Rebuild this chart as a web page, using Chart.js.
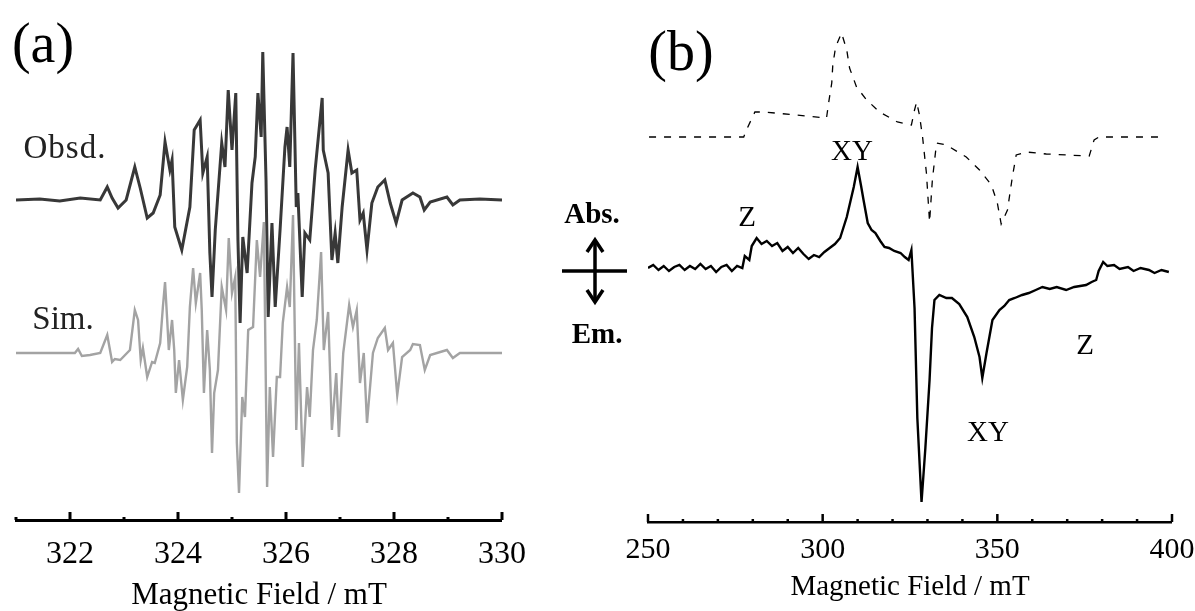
<!DOCTYPE html>
<html>
<head>
<meta charset="utf-8">
<title>EPR spectra</title>
<script src="https://cdn.jsdelivr.net/npm/chart.js"></script>
<style>
  html, body { margin: 0; padding: 0; background: #fff; }
  #wrap { position: relative; width: 1195px; height: 611px; overflow: hidden; }
  canvas, svg { position: absolute; left: 0; top: 0; }
  .lbl {
    position: absolute;
    transform: translate(-50%, -50%);
    font-family: 'Liberation Serif', 'Times New Roman', serif;
    line-height: 1;
    white-space: nowrap;
    color: #000;
  }
</style>
</head>
<body>
<div id="wrap">
  <canvas id="chartA" width="1195" height="611"></canvas>
  <canvas id="chartB" width="1195" height="611"></canvas>

  <!-- Abs./Em. double arrow -->
  <svg width="1195" height="611">
    <g stroke="#000" fill="none" stroke-width="3.5">
      <line x1="562" y1="271" x2="627" y2="271"/>
      <line x1="595" y1="241" x2="595" y2="300"/>
      <polyline points="587,252 595,240 603,252"/>
      <polyline points="587,290 595,302 603,290"/>
    </g>
  </svg>

  <div class="lbl" style="left:43px;top:43px;font-size:56px">(a)</div>
  <div class="lbl" style="left:65px;top:147px;font-size:33px;color:#222;letter-spacing:1px">Obsd.</div>
  <div class="lbl" style="left:63px;top:318px;font-size:33px;color:#222">Sim.</div>

  <div class="lbl" style="left:681px;top:51px;font-size:56px">(b)</div>
  <div class="lbl" style="left:852px;top:150px;font-size:29px">XY</div>
  <div class="lbl" style="left:747px;top:216px;font-size:29px">Z</div>
  <div class="lbl" style="left:592px;top:213px;font-size:29px;font-weight:bold">Abs.</div>
  <div class="lbl" style="left:597px;top:333px;font-size:29px;font-weight:bold">Em.</div>
  <div class="lbl" style="left:988px;top:431px;font-size:29px">XY</div>
  <div class="lbl" style="left:1085px;top:344px;font-size:29px">Z</div>
</div>

<script>
// ---- panel (a): hyperfine spectrum, field in mT ----
const obsdField = [321.00, 321.44, 321.81, 322.19, 322.56, 322.69, 322.78, 322.89, 323.04, 323.20,
  323.30, 323.43, 323.54, 323.67, 323.76, 323.85, 323.89, 323.94, 324.07, 324.22,
  324.30, 324.41, 324.46, 324.54, 324.59, 324.63, 324.69, 324.81, 324.87, 324.93,
  325.00, 325.07, 325.11, 325.15, 325.20, 325.28, 325.37, 325.43, 325.48, 325.54,
  325.57, 325.63, 325.67, 325.74, 325.80, 325.89, 325.98, 326.02, 326.07, 326.13,
  326.19, 326.22, 326.30, 326.35, 326.44, 326.54, 326.67, 326.69, 326.78, 326.85,
  326.91, 326.96, 327.04, 327.15, 327.22, 327.31, 327.37, 327.43, 327.50, 327.59,
  327.70, 327.83, 327.93, 328.04, 328.15, 328.35, 328.48, 328.56, 328.67, 328.98,
  329.09, 329.22, 329.59, 330.00];
const obsdSignal = [0, 1, -1, 2, 0, 13, 2, -8, 0, 33,
  12, -18, -13, 5, 58, 30, 40, -27, -50, -7,
  70, 80, 27, 43, -53, -97, -30, 57, 33, 110,
  50, 107, -40, -123, -37, -73, 17, 43, 107, 63,
  148, 20, -117, -23, -107, -30, 53, 73, 33, 147,
  -7, 7, -97, -33, -40, 30, 102, 50, 27, -60,
  -33, -63, -7, 50, 27, 30, -20, -13, -50, -3,
  13, 20, -3, -23, 0, 7, 3, -10, -2, 3,
  -5, 0, 1, 0];

const simField = [321.00, 322.09, 322.15, 322.22, 322.37, 322.56, 322.69, 322.78, 322.83, 322.93,
  323.11, 323.20, 323.26, 323.31, 323.35, 323.43, 323.52, 323.57, 323.67, 323.72,
  323.76, 323.80, 323.83, 323.89, 323.93, 323.96, 324.02, 324.09, 324.17, 324.22,
  324.28, 324.33, 324.41, 324.44, 324.48, 324.54, 324.59, 324.63, 324.67, 324.74,
  324.81, 324.89, 324.94, 325.00, 325.06, 325.09, 325.13, 325.19, 325.24, 325.30,
  325.39, 325.46, 325.52, 325.59, 325.65, 325.70, 325.76, 325.83, 325.89, 325.94,
  326.02, 326.07, 326.13, 326.19, 326.24, 326.31, 326.39, 326.44, 326.50, 326.57,
  326.65, 326.70, 326.78, 326.85, 326.93, 326.98, 327.06, 327.17, 327.24, 327.31,
  327.37, 327.44, 327.50, 327.61, 327.70, 327.83, 327.89, 327.98, 328.06, 328.15,
  328.30, 328.35, 328.48, 328.57, 328.67, 328.98, 329.09, 329.22, 330.00];
const simSignal = [0, 0, 4, -3, -2, 0, 18, -9, -6, -7,
  3, 43, 33, -7, 5, -24, -9, -10, 10, 46,
  71, 33, 3, 33, 3, -40, -7, -47, -14, 46,
  85, 50, 80, 43, -40, 23, -17, -100, -40, -17,
  66, 43, 115, 60, 76, -90, -140, -44, -64, 23,
  26, 113, 76, 131, -134, -34, -104, -24, -24, 30,
  66, 46, 138, -77, 10, -114, -34, -64, 3, 33,
  101, 3, 41, -77, -20, -84, 0, 48, 26, 43,
  -30, 0, -70, 0, 15, 25, 3, 10, -42, -4,
  3, 9, 8, -17, -2, 3, -5, 0, 0];

// ---- panel (b): triplet spectrum, field in mT ----
const trepField = [250, 251.5, 253, 254.5, 256, 257.5, 259, 260.5, 262, 263.5,
  265, 266.5, 268, 269.5, 271, 272.5, 274, 275.5, 277, 277.7,
  279, 279.7, 281.1, 282.5, 284, 285.5, 287, 288.5, 290, 291.5,
  293, 294.5, 296, 297.5, 299, 300.5, 302, 303.5, 305, 306.9,
  308.9, 310, 311, 311.7, 312.9, 314, 315.1, 316.5, 317.7, 319,
  320.5, 322.3, 323.5, 324.6, 325.4, 326.3, 327.1, 328.3, 329.4, 330.6,
  331.3, 332, 333.4, 335.4, 337, 339.1, 341.4, 343.4, 344.9, 345.7,
  346.9, 348.6, 350.6, 352, 353.4, 355, 357.1, 359, 361, 362.9,
  365, 367, 369.7, 372, 375.4, 377, 378.3, 379, 380.3, 381.5,
  383.4, 385, 387.4, 389, 391, 393.4, 395, 397, 399.1];
const trepSignal = [0, 3, -2, 2, -3, 1, 3, -2, 2, -1,
  4, -1, 2, -4, 1, 3, -3, 2, 0, 12,
  8, 22, 30, 24, 27, 22, 25, 17, 21, 15,
  20, 14, 9, 13, 11, 16, 20, 24, 30, 51,
  81, 101, 82, 68, 45, 38, 35, 27, 21, 20,
  17, 15, 11, 8, 18, -40, -150, -234, -180, -112,
  -60, -32, -27, -30, -30, -36, -49, -69, -89, -110,
  -85, -52, -42, -38, -32, -30, -27, -25, -22, -19,
  -21, -19, -22, -19, -17, -14, -12, -3, 6, 2,
  3, -1, 1, -3, 0, -2, -5, -2, -4];

const calcField = [250.3, 277.4, 278.3, 280.6, 283.4, 301.1, 301.7, 302.6, 302.9, 303.7,
  305.4, 306.9, 307.7, 309.7, 312.6, 316.3, 321.4, 325.4, 326.3, 326.9,
  327.7, 328.6, 329.7, 330.6, 331.4, 332.6, 335.4, 341.1, 344.9, 348.3,
  350.0, 351.1, 352.9, 354.3, 355.4, 358.3, 364.0, 376.3, 377.7, 379.1,
  397.1];
const calcSignal = [0, 0, 8, 25, 25, 19, 34, 54, 72, 90,
  104, 87, 69, 50, 37, 25, 15, 12, 27, 35,
  22, 0, -36, -85, -43, -6, -8, -20, -33, -48,
  -66, -87, -73, -40, -18, -15, -17, -19, -3, 0,
  0];

const fieldTicksA = [322, 324, 326, 328, 330];
const fieldTicksB = [250, 300, 350, 400];

// vertical placement of stacked traces (intensity units above the axis)
const obsdBase = 320, simBase = 167;
const trepBase = 254, calcBase = 385;

const serif = "'Liberation Serif', 'Times New Roman', serif";

function toPoints(field, signal, base) {
  return field.map((f, i) => ({ x: f, y: base + signal[i] }));
}

// tick marks that point up into the plot, long on labelled values
const innerTicks = {
  id: 'innerTicks',
  afterDraw(chart, args, opts) {
    const sc = chart.scales.x;
    const ctx = chart.ctx;
    ctx.save();
    ctx.strokeStyle = '#000';
    ctx.lineWidth = opts.width;
    sc.ticks.forEach(t => {
      const px = sc.getPixelForValue(t.value);
      const major = Math.abs(t.value % opts.every) < 1e-6;
      const len = major ? opts.major : opts.minor;
      ctx.beginPath();
      ctx.moveTo(px, sc.top);
      ctx.lineTo(px, sc.top - len);
      ctx.stroke();
    });
    ctx.restore();
  }
};

function fieldAxis(min, max, step, labels, axisTop, tickFont, tickPad, titleFont, titlePad, borderW) {
  return {
    type: 'linear',
    position: 'bottom',
    min: min,
    max: max,
    afterFit: s => {
      s.height = 611 - axisTop;
      s.paddingLeft = 0;
      s.paddingRight = 0;
    },
    grid: { display: true, drawOnChartArea: false, drawTicks: false, lineWidth: 0 },
    border: { display: true, color: '#000', width: borderW },
    ticks: {
      stepSize: step,
      autoSkip: false,
      maxRotation: 0,
      minRotation: 0,
      padding: tickPad,
      color: '#000',
      font: { family: serif, size: tickFont, lineHeight: 1 },
      callback: v => labels.includes(v) ? String(v) : ''
    },
    title: {
      display: true,
      text: 'Magnetic Field / mT',
      color: '#000',
      font: { family: serif, size: titleFont, lineHeight: 1 },
      padding: { top: 0, bottom: titlePad }
    }
  };
}

const baseOpts = {
  responsive: false,
  animation: false,
  events: [],
  plugins: { legend: { display: false }, tooltip: { enabled: false } },
  elements: { point: { radius: 0 }, line: { tension: 0 } }
};

// panel (a)
new Chart(document.getElementById('chartA'), {
  type: 'line',
  data: {
    datasets: [
      { label: 'Sim.', data: toPoints(simField, simSignal, simBase),
        borderColor: '#a3a3a3', borderWidth: 2.4, fill: false },
      { label: 'Obsd.', data: toPoints(obsdField, obsdSignal, obsdBase),
        borderColor: '#383838', borderWidth: 3, fill: false }
    ]
  },
  options: Object.assign({}, baseOpts, {
    layout: { autoPadding: false, padding: { left: 16, right: 1195 - 502, top: 0, bottom: 0 } },
    scales: {
      x: fieldAxis(321, 330, 1, fieldTicksA, 520, 32, 19, 31, 0, 3),
      y: { display: false, min: 0, max: 520 }
    },
    plugins: Object.assign({}, baseOpts.plugins, {
      innerTicks: { every: 2, major: 8, minor: 3, width: 3 }
    })
  }),
  plugins: [innerTicks]
});

// panel (b)
new Chart(document.getElementById('chartB'), {
  type: 'line',
  data: {
    datasets: [
      { label: 'Observed', data: toPoints(trepField, trepSignal, trepBase),
        borderColor: '#000', borderWidth: 2.4, fill: false },
      { label: 'Calculated', data: toPoints(calcField, calcSignal, calcBase),
        borderColor: '#000', borderWidth: 1.3, borderDash: [7, 8], fill: false }
    ]
  },
  options: Object.assign({}, baseOpts, {
    layout: { autoPadding: false, padding: { left: 648, right: 1195 - 1172, top: 0, bottom: 0 } },
    scales: {
      x: fieldAxis(250, 400, 10, fieldTicksB, 522, 30, 13, 29, 9.5, 2.5),
      y: { display: false, min: 0, max: 522 }
    },
    plugins: Object.assign({}, baseOpts.plugins, {
      innerTicks: { every: 50, major: 8, minor: 3, width: 2.5 }
    })
  }),
  plugins: [innerTicks]
});
</script>
</body>
</html>
